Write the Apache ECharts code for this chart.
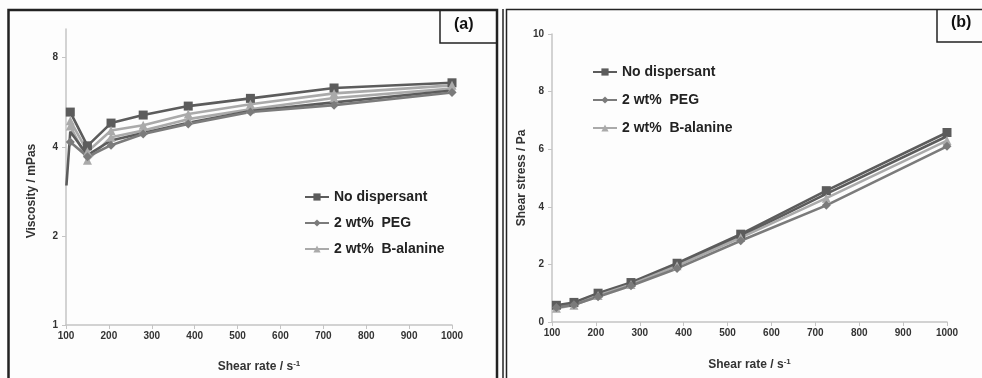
<!DOCTYPE html>
<html>
<head>
<meta charset="utf-8">
<script src="https://cdn.jsdelivr.net/npm/echarts@6/dist/echarts.min.js"></script>
<style>html,body{margin:0;padding:0;background:#fdfdfd}#c{width:982px;height:378px}</style>
</head>
<body>
<div id="c"></div>
<script>
// Shear rates (s^-1)
const shearRate = [110, 150, 205, 280, 385, 530, 725, 1000];
const spikeStart = [101, 2.96];

// Panel (a): viscosity / mPas
const viscNoDisp   = [5.24, 4.03, 4.81, 5.12, 5.49, 5.83, 6.32, 6.58];
const viscNoDisp2  = [4.5, 3.75, 4.2, 4.45, 4.82, 5.28, 5.65, 6.2];
const viscPEG      = [4.15, 3.7, 4.05, 4.42, 4.78, 5.24, 5.53, 6.1];
const viscAla      = [4.9, 3.85, 4.54, 4.73, 5.16, 5.57, 6.06, 6.45];
const viscAla2     = [4.7, 3.6, 4.31, 4.54, 4.96, 5.36, 5.85, 6.29];

// Panel (b): shear stress / Pa
const stressNoDisp  = [0.58, 0.68, 1.0, 1.37, 2.04, 3.05, 4.56, 6.58];
const stressNoDisp2 = [0.55, 0.65, 0.97, 1.34, 2.0, 2.98, 4.45, 6.45];
const stressPEG     = [0.5, 0.6, 0.88, 1.26, 1.86, 2.82, 4.05, 6.1];
const stressAla     = [0.48, 0.58, 0.92, 1.3, 1.95, 2.93, 4.3, 6.3];

const xTicks = [100, 200, 300, 400, 500, 600, 700, 800, 900, 1000];
const viscTicks = [1, 2, 4, 8];
const stressTicks = [0, 2, 4, 6, 8, 10];
const legendNames = ['No dispersant', '2 wt%  PEG', '2 wt%  B-alanine'];

const C_ND = '#5c5c5c', C_PEG = '#7b7b7b', C_ALA = '#aaaaaa';
const pair = (ys, xs) => ys.map((y, i) => [xs[i], y]);

function mk(name, data, color, symbol, size, gi) {
  return {
    name, type: 'line', xAxisIndex: gi, yAxisIndex: gi, data,
    symbol, symbolSize: size, showSymbol: true,
    lineStyle: { color, width: 2.6 }, itemStyle: { color },
    emphasis: { disabled: true }, animation: false, z: 3
  };
}

const FF = 'Liberation Sans, Arial';
const axisFont = { fontFamily: FF, fontWeight: 'bold', fontSize: 10, color: '#333' };
const nameFont = { fontFamily: FF, fontWeight: 'bold', fontSize: 12, color: '#333' };
const xName = '{a|Shear rate / s}{b|-1}';
const xRich = { a: { fontFamily: FF, fontWeight: 'bold', fontSize: 12, color: '#333' },
                b: { fontFamily: FF, fontWeight: 'bold', fontSize: 8, color: '#333', padding: [0, 0, 6, 0] } };

function xAxis(gi) {
  return {
    type: 'value', gridIndex: gi, min: 100, max: 1000, interval: 100,
    name: xName, nameLocation: 'middle', nameGap: gi === 0 ? 35 : 36,
    nameTextStyle: { rich: xRich },
    axisLine: { lineStyle: { color: '#c4c4c4', width: 1.5 } },
    axisTick: { show: true, length: 4, lineStyle: { color: '#c4c4c4' } },
    axisLabel: Object.assign({ margin: 6, formatter: v => xTicks.indexOf(v) >= 0 ? String(v) : '' }, axisFont),
    splitLine: { show: false }
  };
}

const legendText = { fontFamily: FF, fontWeight: 'bold', fontSize: 14, color: '#222' };

const option = {
  backgroundColor: '#fdfdfd',
  animation: false,
  grid: [
    { left: 66, top: 29, width: 386, height: 299 },
    { left: 552, top: 34, width: 395, height: 288 }
  ],
  xAxis: [xAxis(0), xAxis(1)],
  yAxis: [
    {
      type: 'log', logBase: 2, gridIndex: 0, min: 1, max: 10,
      name: 'Viscosity / mPas', nameLocation: 'middle', nameGap: 28,
      nameTextStyle: Object.assign({ padding: [0, 28, 0, 0] }, nameFont),
      axisLine: { show: true, lineStyle: { color: '#c4c4c4', width: 1.5 } },
      axisTick: { show: true, length: 4, inside: false, lineStyle: { color: '#c4c4c4' } },
      axisLabel: Object.assign({ margin: 8, showMaxLabel: false,
        formatter: v => viscTicks.indexOf(Math.round(v)) >= 0 && Math.abs(v - Math.round(v)) < 1e-6 ? String(Math.round(v)) : '' }, axisFont),
      splitLine: { show: false }
    },
    {
      type: 'value', gridIndex: 1, min: 0, max: 10, interval: 2,
      name: 'Shear stress / Pa', nameLocation: 'middle', nameGap: 24, nameTextStyle: nameFont,
      axisLine: { show: true, lineStyle: { color: '#c4c4c4', width: 1.5 } },
      axisTick: { show: true, length: 4, lineStyle: { color: '#c4c4c4' } },
      axisLabel: Object.assign({ margin: 8, formatter: v => stressTicks.indexOf(v) >= 0 ? String(v) : '' }, axisFont),
      splitLine: { show: false }
    }
  ],
  legend: [
    {
      data: legendNames, orient: 'vertical', left: 299, top: 185,
      itemWidth: 24, itemHeight: 9, itemGap: 12,
      textStyle: legendText, selectedMode: false
    },
    {
      data: legendNames, orient: 'vertical', left: 587, top: 60,
      itemWidth: 24, itemHeight: 9, itemGap: 14,
      textStyle: legendText, selectedMode: false
    }
  ],
  series: [
    mk('No dispersant', pair(viscNoDisp, shearRate), C_ND, 'rect', 9, 0),
    mk('2 wt%  B-alanine', pair(viscAla, shearRate), C_ALA, 'triangle', 9, 0),
    mk('B-alanine run 2', pair(viscAla2, shearRate), C_ALA, 'triangle', 9, 0),
    mk('No dispersant run 2', [spikeStart].concat(pair(viscNoDisp2, shearRate)), C_ND, 'rect', 0.1, 0),
    mk('2 wt%  PEG', pair(viscPEG, shearRate), C_PEG, 'diamond', 9, 0),
    mk('No dispersant', pair(stressNoDisp, shearRate), C_ND, 'rect', 9, 1),
    mk('No dispersant run 2b', pair(stressNoDisp2, shearRate), C_ND, 'rect', 0.1, 1),
    mk('2 wt%  B-alanine', pair(stressAla, shearRate), C_ALA, 'triangle', 9, 1),
    mk('2 wt%  PEG', pair(stressPEG, shearRate), C_PEG, 'diamond', 9, 1)
  ],
  graphic: [
    { type: 'polyline', shape: { points: [[8.5, 378], [8.5, 10], [497, 10], [497, 378]] }, style: { stroke: '#222', lineWidth: 2.5, fill: null } },
    { type: 'polyline', shape: { points: [[440, 10], [440, 43], [497, 43]] }, style: { stroke: '#222', lineWidth: 1.5, fill: null } },
    { type: 'text', left: 454, top: 17, style: { text: '(a)', font: 'bold 16px "Liberation Sans", Arial', fill: '#111' } },
    { type: 'polyline', shape: { points: [[503, 378], [503, 9]] }, style: { stroke: '#222', lineWidth: 1.5, fill: null } },
    { type: 'polyline', shape: { points: [[506.5, 378], [506.5, 9.5], [982, 9.5]] }, style: { stroke: '#222', lineWidth: 1.5, fill: null } },
    { type: 'polyline', shape: { points: [[937, 9], [937, 42], [982, 42]] }, style: { stroke: '#222', lineWidth: 1.5, fill: null } },
    { type: 'text', left: 951, top: 15, style: { text: '(b)', font: 'bold 16px "Liberation Sans", Arial', fill: '#111' } }
  ]
};
echarts.init(document.getElementById('c'), null, { renderer: 'canvas' }).setOption(option);
</script>
</body>
</html>
